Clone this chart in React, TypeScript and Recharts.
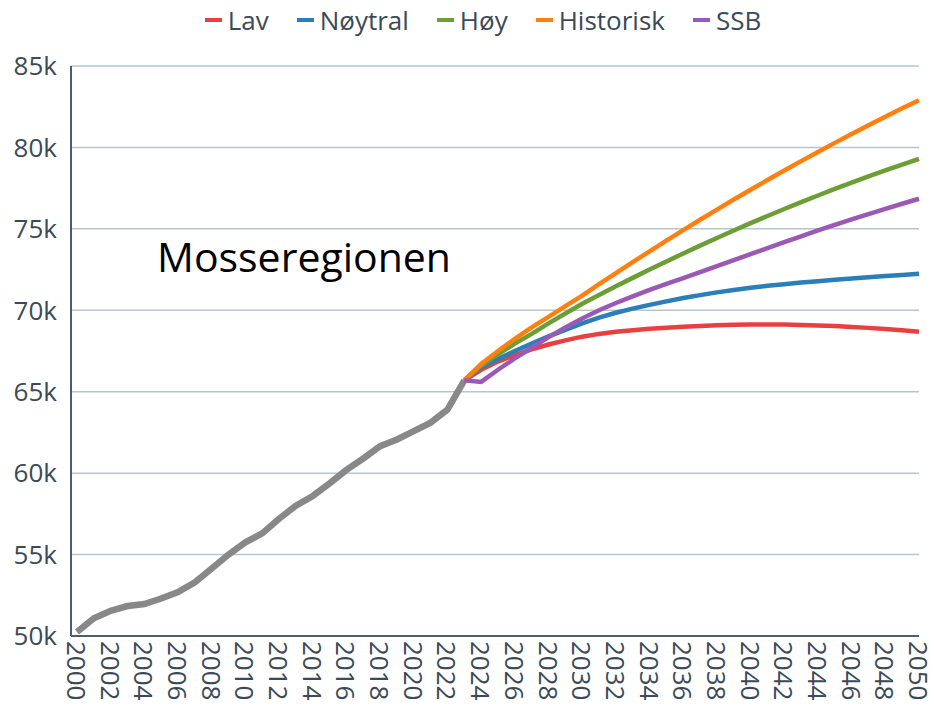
import { LineChart, Line, XAxis, YAxis, CartesianGrid } from "recharts";

const years = [
  2000, 2001, 2002, 2003, 2004, 2005, 2006, 2007, 2008, 2009, 2010, 2011, 2012,
  2013, 2014, 2015, 2016, 2017, 2018, 2019, 2020, 2021, 2022, 2023, 2024, 2025,
  2026, 2027, 2028, 2029, 2030, 2031, 2032, 2033, 2034, 2035, 2036, 2037, 2038,
  2039, 2040, 2041, 2042, 2043, 2044, 2045, 2046, 2047, 2048, 2049, 2050,
];

// historical population 2000-2023
const historikk = [
  50250, 51090, 51550, 51840, 51960, 52300, 52700, 53300, 54150, 55000, 55750,
  56300, 57200, 58000, 58600, 59370, 60200, 60900, 61660, 62070, 62580, 63100,
  63900, 65700,
];

// projections 2023-2050
const lav = [
  65700, 66350, 66850, 67250, 67600, 67900, 68150, 68380, 68550, 68680, 68780,
  68860, 68930, 68990, 69040, 69080, 69110, 69130, 69130, 69120, 69100, 69070,
  69030, 68980, 68920, 68850, 68770, 68680,
];
const noytral = [
  65700, 66500, 67000, 67500, 67950, 68400, 68800, 69200, 69550, 69850, 70100,
  70330, 70550, 70750, 70930, 71100, 71250, 71380, 71500, 71600, 71700, 71790,
  71870, 71950, 72030, 72100, 72170, 72240,
];
const hoy = [
  65700, 66600, 67300, 67950, 68550, 69200, 69800, 70400, 70940, 71470, 71990,
  72500, 73000, 73490, 73970, 74440, 74900, 75350, 75790, 76220, 76640, 77050,
  77450, 77840, 78220, 78590, 78950, 79300,
];
const historisk = [
  65700, 66700, 67500, 68250, 68950, 69600, 70250, 70900, 71600, 72280, 72960,
  73620, 74280, 74920, 75560, 76180, 76800, 77400, 78000, 78580, 79160, 79720,
  80280, 80820, 81360, 81880, 82400, 82900,
];
const ssb = [
  65700, 65600, 66350, 67050, 67700, 68350, 68950, 69500, 70000, 70450, 70850,
  71250, 71620, 71970, 72340, 72710, 73080, 73450, 73820, 74180, 74540, 74900,
  75250, 75580, 75910, 76230, 76540, 76850,
];

const xTicks = [
  2000, 2002, 2004, 2006, 2008, 2010, 2012, 2014, 2016, 2018, 2020, 2022, 2024,
  2026, 2028, 2030, 2032, 2034, 2036, 2038, 2040, 2042, 2044, 2046, 2048, 2050,
];
const yTicks = [50000, 55000, 60000, 65000, 70000, 75000, 80000, 85000];

const series = [
  { key: "lav", name: "Lav", color: "#e84040", values: lav },
  { key: "noytral", name: "Nøytral", color: "#2a7fba", values: noytral },
  { key: "hoy", name: "Høy", color: "#6b9e35", values: hoy },
  { key: "historisk", name: "Historisk", color: "#ff800e", values: historisk },
  { key: "ssb", name: "SSB", color: "#9b59b6", values: ssb },
];

const projStart = 2023;

const data = years.map((year, i) => {
  const row: Record<string, number | null> = { year };
  row.historikk = i < historikk.length ? historikk[i] : null;
  series.forEach((s) => {
    const j = year - projStart;
    row[s.key] = j >= 0 ? s.values[j] : null;
  });
  return row;
});

const textColor = "#3b4a56";
const font = "'Open Sans', sans-serif";

// rotated year label, reads top to bottom
function YearTick({ x, payload }: any) {
  const y0 = 641;
  return (
    <text
      x={x}
      y={y0}
      transform={`rotate(90, ${x}, ${y0})`}
      dominantBaseline="central"
      textAnchor="start"
      fill={textColor}
      fontSize={26}
      fontFamily={font}
    >
      {payload.value}
    </text>
  );
}

function ChartLegend() {
  return (
    <div
      style={{
        position: "absolute",
        top: 2,
        left: 0,
        width: 934,
        display: "flex",
        justifyContent: "center",
        gap: 28,
        paddingLeft: 32,
        boxSizing: "border-box",
        fontFamily: font,
        fontSize: 26,
        color: textColor,
      }}
    >
      {series.map((s) => (
        <div key={s.key} style={{ display: "flex", alignItems: "center" }}>
          <span
            style={{
              display: "inline-block",
              width: 17,
              height: 4,
              background: s.color,
              marginRight: 6,
            }}
          />
          {s.name}
        </div>
      ))}
    </div>
  );
}

export default function App() {
  return (
    <div style={{ position: "absolute", left: 0, top: 0, width: 934, height: 708 }}>
      <LineChart
        width={934}
        height={708}
        data={data}
        margin={{ top: 66, right: 15, left: 0, bottom: 0 }}
      >
        <CartesianGrid vertical={false} stroke="#b9c5cd" strokeWidth={1.5} />
        <XAxis
          dataKey="year"
          type="number"
          domain={[2000, 2050]}
          ticks={xTicks}
          interval={0}
          height={72}
          padding={{ left: 6, right: 0 }}
          tickLine={false}
          axisLine={{ stroke: "#4d5d69", strokeWidth: 2 }}
          tick={<YearTick />}
        />
        <YAxis
          domain={[50000, 85000]}
          ticks={yTicks}
          width={71}
          tickLine={false}
          axisLine={{ stroke: "#4d5d69", strokeWidth: 2 }}
          tick={{ fill: textColor, fontSize: 26, fontFamily: font }}
          tickMargin={8}
          tickFormatter={(v: number) => `${v / 1000}k`}
        />
        <Line
          dataKey="historikk"
          stroke="#888888"
          strokeWidth={6.5}
          dot={false}
          isAnimationActive={false}
        />
        {series.map((s) => (
          <Line
            key={s.key}
            dataKey={s.key}
            name={s.name}
            stroke={s.color}
            strokeWidth={4.5}
            dot={false}
            isAnimationActive={false}
          />
        ))}
      </LineChart>
      <ChartLegend />
      <div
        style={{
          position: "absolute",
          left: 157,
          top: 228,
          fontFamily: font,
          fontSize: 41,
          color: "#000",
        }}
      >
        Mosseregionen
      </div>
    </div>
  );
}
